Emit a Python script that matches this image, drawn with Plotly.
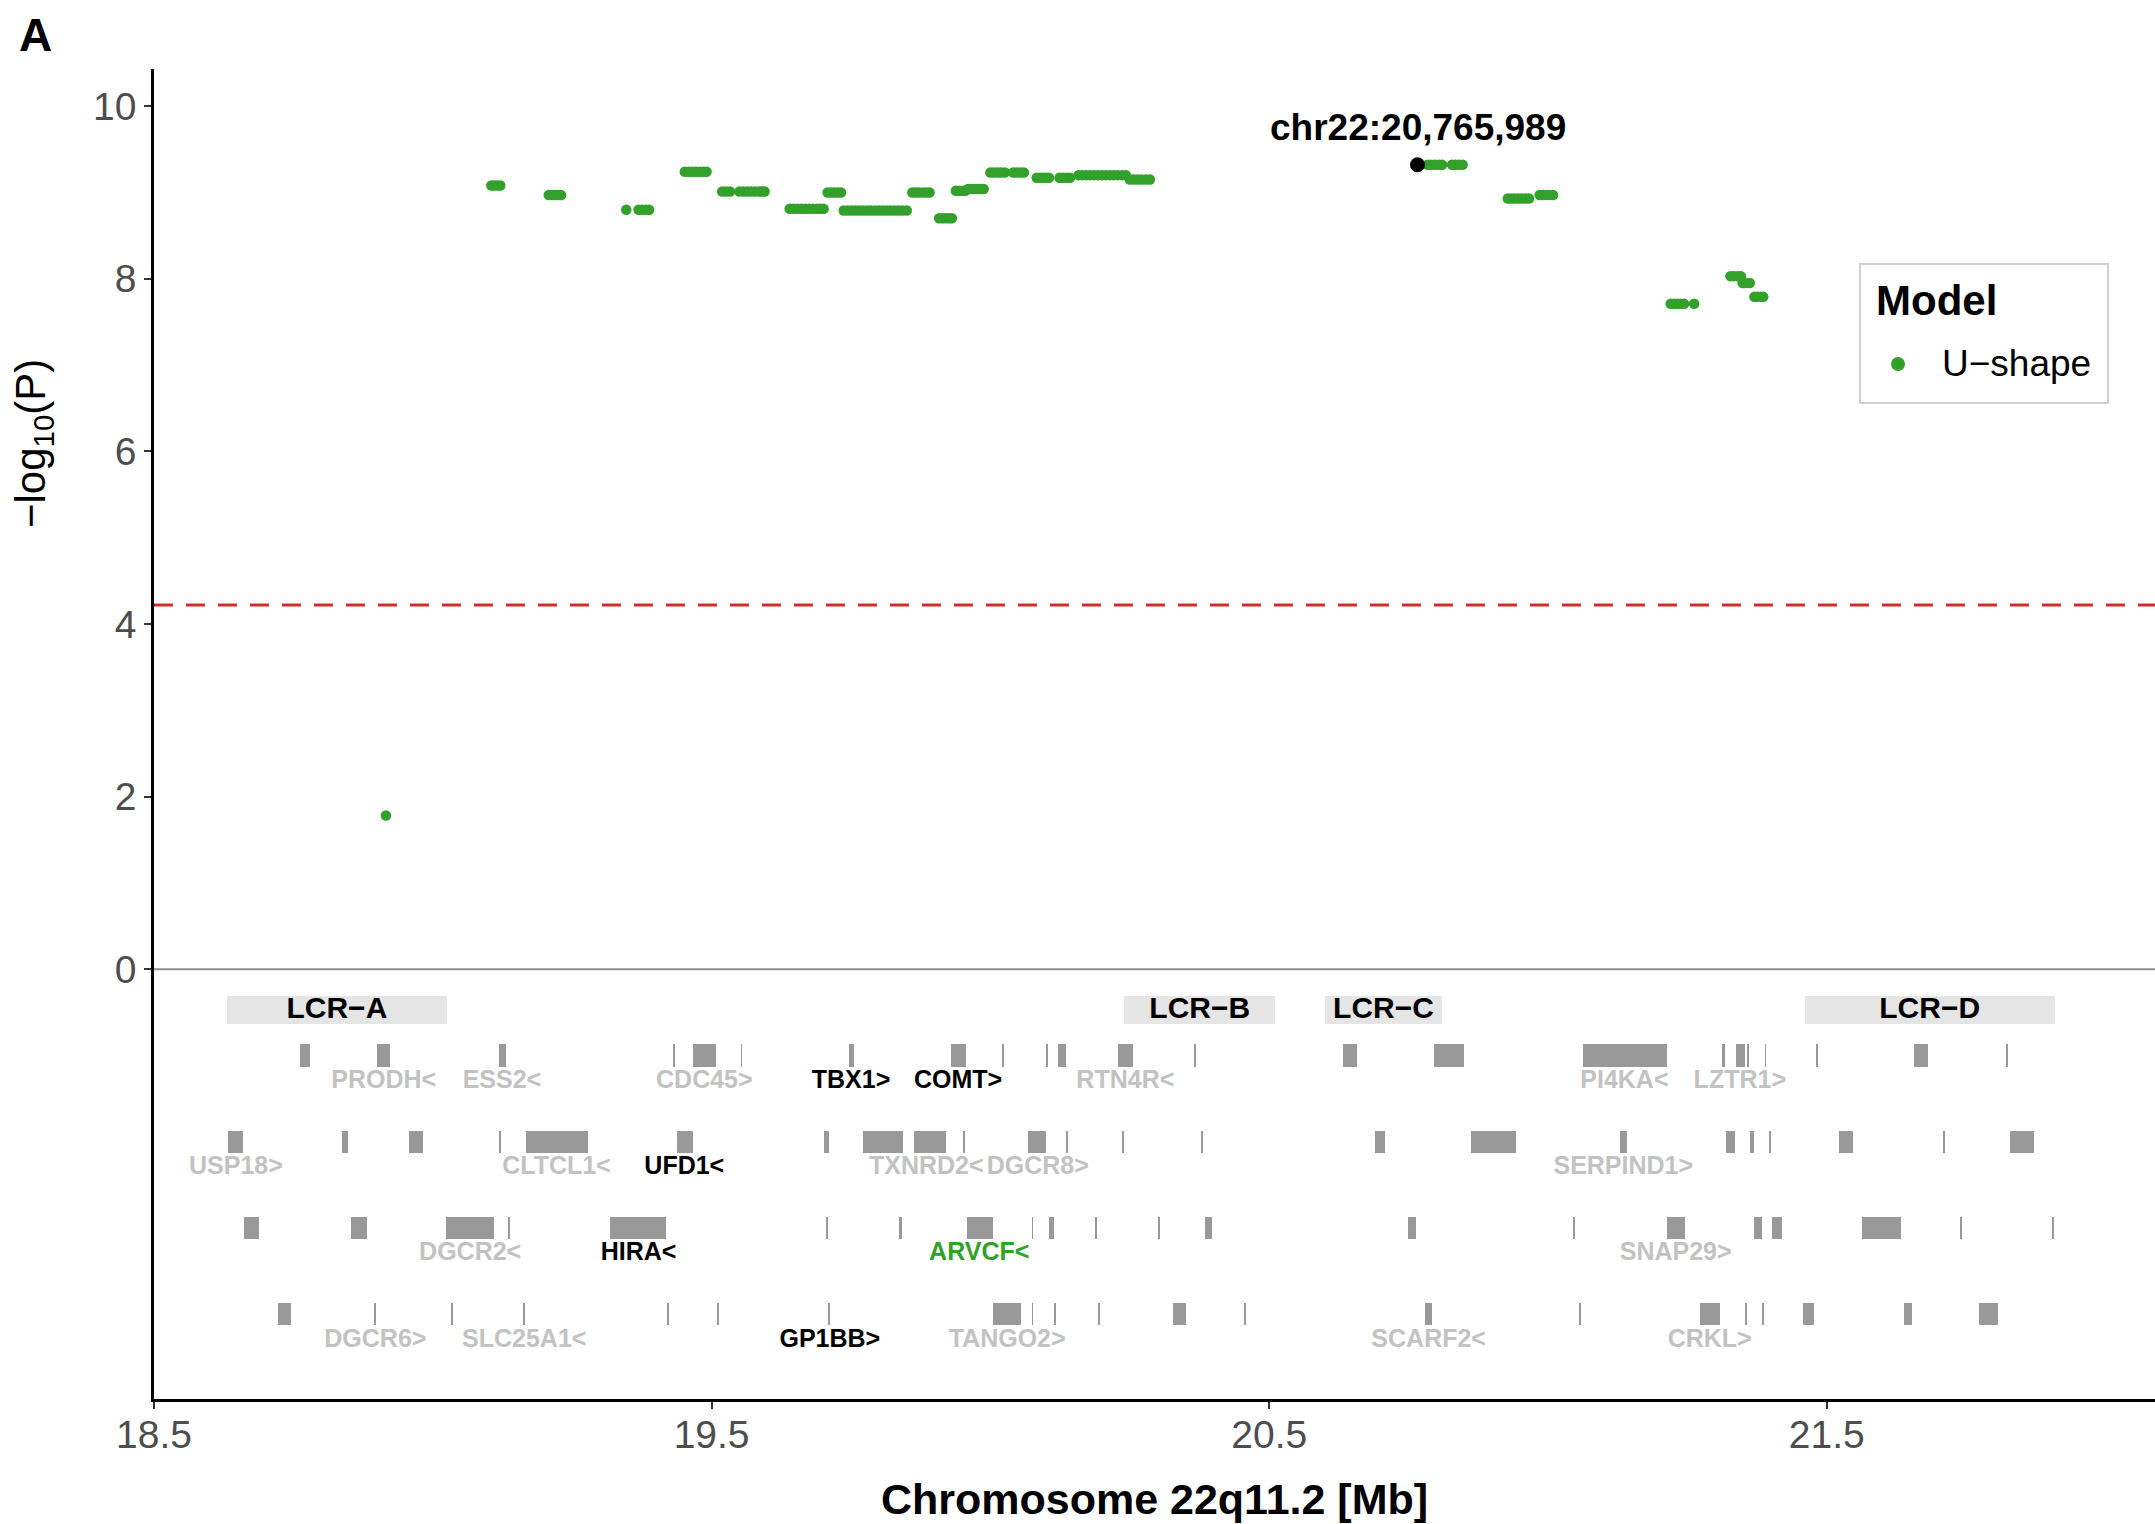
import plotly.graph_objects as go

# ---------------- data ----------------
# SNP association results (position in Mb, -log10 P)
snp_x = [18.916,
         19.105, 19.110, 19.116, 19.121,
         19.208, 19.214, 19.220, 19.226, 19.230,
         19.347,
         19.369, 19.375, 19.382, 19.388,
         19.452, 19.459, 19.466, 19.472, 19.479, 19.485, 19.491,
         19.519, 19.526, 19.533,
         19.550, 19.557, 19.564, 19.571, 19.578, 19.585, 19.590, 19.595,
         19.640, 19.647, 19.654, 19.661, 19.668, 19.675, 19.682, 19.689, 19.695, 19.701,
         19.708, 19.714, 19.720, 19.726, 19.732,
         19.737, 19.744, 19.751, 19.758, 19.765, 19.772, 19.779, 19.786, 19.793, 19.800,
         19.807, 19.814, 19.821, 19.828, 19.835, 19.842, 19.850,
         19.860, 19.866, 19.872, 19.879, 19.885, 19.891,
         19.908, 19.914, 19.920, 19.926, 19.931,
         19.938, 19.944, 19.950, 19.955,
         19.960, 19.966, 19.972, 19.978, 19.983, 19.988,
         20.000, 20.006, 20.013, 20.019, 20.026,
         20.041, 20.047, 20.054, 20.060,
         20.083, 20.089, 20.095, 20.100, 20.105,
         20.124, 20.130, 20.137, 20.143,
         20.158, 20.165, 20.172, 20.179, 20.186, 20.193, 20.200, 20.207, 20.214, 20.221,
         20.228, 20.236, 20.243,
         20.250, 20.257, 20.264, 20.271, 20.279, 20.286,
         20.784, 20.790, 20.797, 20.804, 20.810,
         20.828, 20.834, 20.840, 20.847,
         20.928, 20.934, 20.940, 20.947, 20.953, 20.960, 20.966,
         20.985, 20.991, 20.997, 21.003, 21.009,
         21.220, 21.226, 21.232, 21.238, 21.244, 21.262,
         21.327, 21.333, 21.340, 21.346,
         21.349, 21.355, 21.362,
         21.370, 21.375, 21.381, 21.386]
snp_y = [1.78,
         9.08, 9.08, 9.08, 9.08,
         8.97, 8.97, 8.97, 8.97, 8.97,
         8.80,
         8.80, 8.80, 8.80, 8.80,
         9.24, 9.24, 9.24, 9.24, 9.24, 9.24, 9.24,
         9.01, 9.01, 9.01,
         9.01, 9.01, 9.01, 9.01, 9.01, 9.01, 9.01, 9.01,
         8.81, 8.81, 8.81, 8.81, 8.81, 8.81, 8.81, 8.81, 8.81, 8.81,
         9.00, 9.00, 9.00, 9.00, 9.00,
         8.79, 8.79, 8.79, 8.79, 8.79, 8.79, 8.79, 8.79, 8.79, 8.79,
         8.79, 8.79, 8.79, 8.79, 8.79, 8.79, 8.79,
         9.00, 9.00, 9.00, 9.00, 9.00, 9.00,
         8.70, 8.70, 8.70, 8.70, 8.70,
         9.02, 9.02, 9.02, 9.02,
         9.04, 9.04, 9.04, 9.04, 9.04, 9.04,
         9.23, 9.23, 9.23, 9.23, 9.23,
         9.23, 9.23, 9.23, 9.23,
         9.17, 9.17, 9.17, 9.17, 9.17,
         9.17, 9.17, 9.17, 9.17,
         9.20, 9.20, 9.20, 9.20, 9.20, 9.20, 9.20, 9.20, 9.20, 9.20,
         9.20, 9.20, 9.20,
         9.15, 9.15, 9.15, 9.15, 9.15, 9.15,
         9.32, 9.32, 9.32, 9.32, 9.32,
         9.32, 9.32, 9.32, 9.32,
         8.93, 8.93, 8.93, 8.93, 8.93, 8.93, 8.93,
         8.97, 8.97, 8.97, 8.97, 8.97,
         7.71, 7.71, 7.71, 7.71, 7.71, 7.71,
         8.03, 8.03, 8.03, 8.03,
         7.95, 7.95, 7.95,
         7.79, 7.79, 7.79, 7.79]

lead_x = [20.765989]
lead_y = [9.32]
lead_label = "chr22:20,765,989"

threshold = 4.22

# gene bodies: start, end (Mb) and track row
gene_start = [18.761, 18.900, 19.118, 19.430, 19.467, 19.5532, 19.746, 19.930, 20.0222, 20.100, 20.121,
              20.229, 20.366, 20.632, 20.795, 21.063, 21.312, 21.337, 21.357, 21.3892, 21.481, 21.656, 21.822,
              18.633, 18.837, 18.958, 19.119, 19.167, 19.438, 19.702, 19.771, 19.863, 19.9522, 20.067, 20.137,
              20.2372, 20.378, 20.690, 20.862, 21.129, 21.320, 21.363, 21.397, 21.522, 21.710, 21.828,
              18.661, 18.853, 19.024, 19.135, 19.318, 19.706, 19.836, 19.958, 20.0752, 20.105, 20.188,
              20.302, 20.384, 20.749, 21.045, 21.214, 21.370, 21.401, 21.563, 21.740, 21.904,
              18.722, 18.895, 19.034, 19.162, 19.421, 19.511, 19.710, 20.005, 20.0752, 20.1152, 20.193,
              20.327, 20.456, 20.780, 21.056, 21.273, 21.355, 21.385, 21.458, 21.638, 21.773]
gene_end = [18.779, 18.924, 19.132, 19.435, 19.508, 19.554, 19.755, 19.957, 20.023, 20.104, 20.135,
            20.255, 20.368, 20.657, 20.850, 21.213, 21.317, 21.353, 21.359, 21.390, 21.483, 21.681, 21.824,
            18.660, 18.848, 18.982, 19.121, 19.279, 19.467, 19.711, 19.843, 19.920, 19.953, 20.099, 20.139,
            20.238, 20.380, 20.707, 20.942, 21.142, 21.336, 21.369, 21.399, 21.547, 21.712, 21.872,
            18.688, 18.882, 19.110, 19.137, 19.419, 19.709, 19.841, 20.004, 20.076, 20.114, 20.190,
            20.304, 20.398, 20.763, 21.047, 21.246, 21.383, 21.420, 21.633, 21.742, 21.906,
            18.746, 18.897, 19.036, 19.165, 19.423, 19.513, 19.712, 20.055, 20.076, 20.116, 20.195,
            20.350, 20.458, 20.792, 21.058, 21.309, 21.357, 21.387, 21.477, 21.653, 21.807]
gene_row = [-1] * 23 + [-2] * 23 + [-3] * 21 + [-4] * 21

# gene name labels
label_text = ["PRODH&lt;", "ESS2&lt;", "CDC45&gt;", "TBX1&gt;", "COMT&gt;", "RTN4R&lt;", "PI4KA&lt;", "LZTR1&gt;",
              "USP18&gt;", "CLTCL1&lt;", "UFD1&lt;", "TXNRD2&lt;", "DGCR8&gt;", "SERPIND1&gt;",
              "DGCR2&lt;", "HIRA&lt;", "ARVCF&lt;", "SNAP29&gt;",
              "DGCR6&gt;", "SLC25A1&lt;", "GP1BB&gt;", "TANGO2&gt;", "SCARF2&lt;", "CRKL&gt;"]
label_x = [18.912, 19.124, 19.487, 19.750, 19.942, 20.242, 21.137, 21.344,
           18.647, 19.222, 19.451, 19.885, 20.085, 21.135,
           19.067, 19.369, 19.980, 21.229,
           18.897, 19.164, 19.712, 20.030, 20.786, 21.290]
label_row = [-1] * 8 + [-2] * 6 + [-3] * 4 + [-4] * 6
label_color = ["#c2c2c2", "#c2c2c2", "#c2c2c2", "#000000", "#000000", "#c2c2c2", "#c2c2c2", "#c2c2c2",
               "#c2c2c2", "#c2c2c2", "#000000", "#c2c2c2", "#c2c2c2", "#c2c2c2",
               "#c2c2c2", "#000000", "#33a02c", "#c2c2c2",
               "#c2c2c2", "#c2c2c2", "#000000", "#c2c2c2", "#c2c2c2", "#c2c2c2"]

# low copy repeat regions
lcr_name = ["LCR−A", "LCR−B", "LCR−C", "LCR−D"]
lcr_start = [18.631, 20.240, 20.600, 21.460]
lcr_end = [19.025, 20.511, 20.810, 21.909]
lcr_row = -0.475

x_ticks = [18.5, 19.5, 20.5, 21.5]
y_ticks = [0, 2, 4, 6, 8, 10]

legend_title = "Model"
legend_label = "U−shape"

# ---------------- figure ----------------
W, H = 2155, 1524
ML, MR, MT, MB = 154, 0, 69, 125
PW, PH = W - ML - MR, H - MT - MB


def px(X):
    return (X - ML) / PW


def py(Y):
    return (H - MB - Y) / PH


NARROW = "Liberation Sans Narrow, Liberation Sans, Arial, sans-serif"
SANS = "Liberation Sans, Arial, sans-serif"
GREEN = "#33a02c"

fig = go.Figure()

# LCR boxes
fig.add_trace(go.Bar(
    orientation="h",
    base=lcr_start,
    x=[e - s for s, e in zip(lcr_start, lcr_end)],
    y=[lcr_row] * len(lcr_start),
    width=0.33,
    marker=dict(color="#e5e5e5", line=dict(width=0)),
    showlegend=False, hoverinfo="skip",
))
fig.add_trace(go.Scatter(
    x=[(s + e) / 2 for s, e in zip(lcr_start, lcr_end)],
    y=[lcr_row] * len(lcr_start),
    mode="text", text=lcr_name,
    textfont=dict(family=NARROW, size=30, color="#000000", weight="bold"),
    showlegend=False, hoverinfo="skip",
))

# genes
fig.add_trace(go.Bar(
    orientation="h",
    base=gene_start,
    x=[e - s for s, e in zip(gene_start, gene_end)],
    y=gene_row,
    width=0.255,
    marker=dict(color="#999999", line=dict(width=0)),
    showlegend=False, hoverinfo="skip",
))
fig.add_trace(go.Scatter(
    x=label_x, y=[r - 0.3 for r in label_row],
    mode="text", text=label_text,
    textfont=dict(family=NARROW, size=25, color=label_color, weight="bold"),
    showlegend=False, hoverinfo="skip",
))

# SNPs
fig.add_trace(go.Scatter(
    x=snp_x, y=snp_y, mode="markers", name=legend_label,
    marker=dict(color=GREEN, size=10.5, line=dict(width=0)),
    showlegend=False,
))
fig.add_trace(go.Scatter(
    x=lead_x, y=lead_y, mode="markers",
    marker=dict(color="#000000", size=15, line=dict(width=0)),
    showlegend=False,
))
fig.add_annotation(
    x=lead_x[0], y=lead_y[0], xref="x", yref="y",
    text="<b>" + lead_label + "</b>", showarrow=False, yshift=37,
    font=dict(family=NARROW, size=37, color="#000000"),
)

x_max = 18.5 + PW / 557.6
# threshold and zero lines
fig.add_shape(type="line", xref="x", yref="y", x0=18.5, x1=x_max, y0=threshold, y1=threshold,
              line=dict(color="#d42a2a", width=3, dash="19px,13px"), layer="below")
fig.add_shape(type="line", xref="x", yref="y", x0=18.5, x1=x_max, y0=0, y1=0,
              line=dict(color="#8c8c8c", width=2), layer="below")

# panel label
fig.add_annotation(x=px(35), y=py(35), xref="paper", yref="paper", xanchor="center", yanchor="middle",
                   text="<b>A</b>", showarrow=False,
                   font=dict(family=SANS, size=46, color="#000000"))

# y-axis title
fig.add_annotation(x=px(34), y=py(444), xref="paper", yref="paper", xanchor="center", yanchor="middle",
                   text="−log<sub>10</sub>(P)", textangle=-90, showarrow=False,
                   font=dict(family=SANS, size=42, color="#000000"))

# legend (drawn as a boxed key)
fig.add_shape(type="rect", xref="paper", yref="paper",
              x0=px(1860), x1=px(2108), y0=py(403), y1=py(264),
              line=dict(color="#d0d0d0", width=2), fillcolor="white", layer="above")
fig.add_annotation(x=px(1874), y=py(300), xref="paper", yref="paper", xanchor="left", yanchor="middle",
                   text="<b>" + legend_title + "</b>", showarrow=False,
                   font=dict(family=NARROW, size=42, color="#000000"))
fig.add_shape(type="circle", xref="paper", yref="paper", xsizemode="pixel", ysizemode="pixel",
              xanchor=px(1898), yanchor=py(364), x0=-7, x1=7, y0=-7, y1=7,
              fillcolor=GREEN, line=dict(width=0), layer="above")
fig.add_annotation(x=px(1940), y=py(364), xref="paper", yref="paper", xanchor="left", yanchor="middle",
                   text=legend_label, showarrow=False,
                   font=dict(family=NARROW, size=37, color="#000000"))

fig.update_layout(
    width=W, height=H,
    margin=dict(l=ML, r=MR, t=MT, b=MB, autoexpand=False),
    paper_bgcolor="white", plot_bgcolor="white",
    barmode="overlay",
    bargap=0,
    showlegend=False,
    font=dict(family=SANS, color="#000000"),
    xaxis=dict(
        range=[18.5, x_max], tickvals=x_ticks, ticktext=[str(v) for v in x_ticks],
        showgrid=False, zeroline=False, showline=True, linecolor="#000000", linewidth=2.5,
        ticks="outside", ticklen=7, tickwidth=2, tickcolor="#333333",
        tickfont=dict(family=SANS, size=39, color="#4d4d4d"),
        ticklabelstandoff=-8,
        title=dict(text="<b>Chromosome 22q11.2 [Mb]</b>", font=dict(family=SANS, size=43, color="#000000"),
                   standoff=30),
        automargin=False,
    ),
    yaxis=dict(
        range=[-4.98, 10.43], tickvals=y_ticks,
        showgrid=False, zeroline=False, showline=True, linecolor="#000000", linewidth=2.5,
        ticks="outside", ticklen=7, tickwidth=2, tickcolor="#333333",
        tickfont=dict(family=SANS, size=39, color="#4d4d4d"),
        automargin=False,
    ),
)

fig.write_html("out.html", config={"displayModeBar": False},
               post_script="document.body.style.margin='0';")
